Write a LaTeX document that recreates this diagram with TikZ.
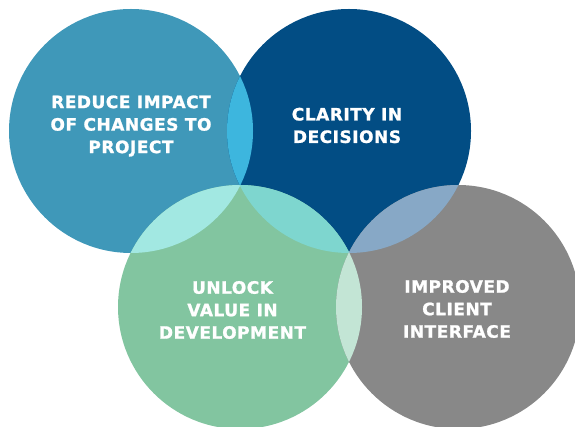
\documentclass[tikz,border=0pt]{standalone}
\usepackage{fontspec}
\newfontfamily\lblfont{DejaVu Sans}[LetterSpace=3,BoldFeatures={FakeBold=1.2}]
\definecolor{cA}{HTML}{3F98B9}
\definecolor{cB}{HTML}{024D84}
\definecolor{cC}{HTML}{82C5A0}
\definecolor{cD}{HTML}{888888}
\definecolor{lAB}{HTML}{3DB6DE}
\definecolor{lAC}{HTML}{A2E8E2}
\definecolor{lBC}{HTML}{7ED6CF}
\definecolor{lBD}{HTML}{87A8C6}
\definecolor{lCD}{HTML}{C3E5D5}
\begin{document}
\begin{tikzpicture}[x=1pt,y=-1pt,
  bubble/.style={circle,minimum size=244pt,inner sep=0pt,draw=none},
  lbl/.style={text=white,align=center,inner sep=0pt,
    font=\lblfont\bfseries\fontsize{17}{22.5}\selectfont}]
\useasboundingbox (0,0) rectangle (575,427);
\node[bubble,fill=cA] (c1) at (131,131) {};
\node[bubble,fill=cB] (c2) at (349,131) {};
\node[bubble,fill=cC] (c3) at (240,307) {};
\node[bubble,fill=cD] (c4) at (458,307) {};
\begin{scope}\clip (c1.center) circle (122pt); \fill[lAB] (c2.center) circle (122pt);\end{scope}
\begin{scope}\clip (c1.center) circle (122pt); \fill[lAC] (c3.center) circle (122pt);\end{scope}
\begin{scope}\clip (c2.center) circle (122pt); \fill[lBC] (c3.center) circle (122pt);\end{scope}
\begin{scope}\clip (c2.center) circle (122pt); \fill[lBD] (c4.center) circle (122pt);\end{scope}
\begin{scope}\clip (c3.center) circle (122pt); \fill[lCD] (c4.center) circle (122pt);\end{scope}
\node[lbl] (t1) at (131,126) {REDUCE IMPACT\\OF CHANGES TO\\PROJECT};
\node[lbl] (t2) at (347,125.5) {CLARITY IN\\DECISIONS};
\node[lbl] (t3) at (232.5,310) {UNLOCK\\VALUE IN\\DEVELOPMENT};
\node[lbl] (t4) at (457,309) {IMPROVED\\CLIENT\\INTERFACE};
\end{tikzpicture}
\end{document}
